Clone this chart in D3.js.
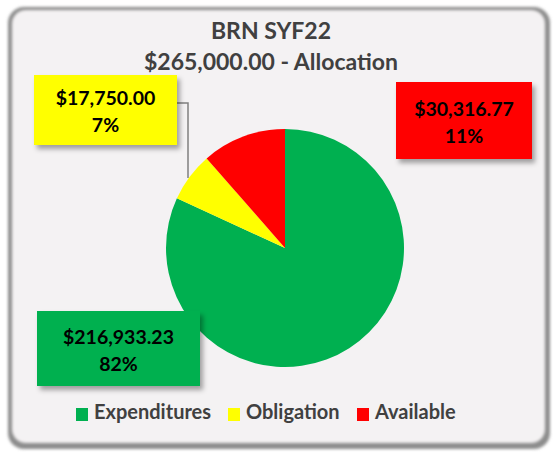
<!DOCTYPE html>
<html>
<head>
<meta charset="utf-8">
<script src="https://cdn.jsdelivr.net/npm/d3@7"></script>
<style>
  body { margin: 0; background: #fff; }
  text { font-family: Lato, "Open Sans", sans-serif; font-weight: bold; }
</style>
</head>
<body>
<main></main>
<script>
const categories = ["Expenditures", "Obligation", "Available"];
const values = [216933.23, 17750.00, 30316.77];
const percentLabels = ["82%", "7%", "11%"];
const colors = ["#00b050", "#ffff00", "#ff0000"];
const titleLines = ["BRN SYF22", "$265,000.00 - Allocation"];

const drawChart = () => {
    const width = 554, height = 453;
    const cx = 285, cy = 248, radius = 119;

    const svg = d3.select("main").append("svg")
        .attr("width", width)
        .attr("height", height);

    const defs = svg.append("defs");
    const shadow = defs.append("filter").attr("id", "shadow")
        .attr("x", "-20%").attr("y", "-20%").attr("width", "150%").attr("height", "150%");
    shadow.append("feDropShadow")
        .attr("dx", 3).attr("dy", 4).attr("stdDeviation", 2.5)
        .attr("flood-color", "#000").attr("flood-opacity", 0.35);

    const soft = defs.append("filter").attr("id", "soft")
        .attr("x", "-5%").attr("y", "-5%").attr("width", "110%").attr("height", "110%");
    soft.append("feGaussianBlur").attr("stdDeviation", 1.6);

    // chart frame (bevelled border)
    svg.append("rect")
        .attr("x", 8).attr("y", 7)
        .attr("width", 542).attr("height", 442)
        .attr("rx", 16)
        .attr("fill", "#8c8c8c")
        .attr("filter", "url(#soft)");
    svg.append("rect")
        .attr("x", 12).attr("y", 10)
        .attr("width", 533).attr("height", 433)
        .attr("rx", 14)
        .attr("fill", "#f4f2f3")
        .attr("filter", "url(#soft)");

    // title
    svg.selectAll(".title")
        .data(titleLines)
        .enter()
        .append("text")
        .attr("class", "title")
        .attr("x", 271)
        .attr("y", (d, i) => 39 + i * 31)
        .attr("text-anchor", "middle")
        .attr("font-size", 23)
        .attr("fill", "#404040")
        .text(d => d);

    const data = categories.map((c, i) => ({name: c, value: values[i], pct: percentLabels[i], color: colors[i]}));

    const pie = d3.pie().sort(null).value(d => d.value);
    const arc = d3.arc().innerRadius(0).outerRadius(radius);
    const arcs = pie(data);

    const g = svg.append("g").attr("transform", "translate(" + cx + "," + cy + ")");
    g.selectAll(".slice")
        .data(arcs)
        .enter()
        .append("path")
        .attr("class", "slice")
        .attr("d", arc)
        .attr("fill", d => d.data.color);

    // leader line for the obligation label
    svg.append("path")
        .attr("d", d3.line()([[177, 103], [188, 103], [188, 178]]))
        .attr("fill", "none")
        .attr("stroke", "#808080")
        .attr("stroke-width", 1.5);

    // data labels
    const boxes = [
        {x: 37, y: 311, w: 163, h: 75},
        {x: 34, y: 75, w: 143, h: 70},
        {x: 396, y: 82, w: 136, h: 77}
    ];
    const fmt = d3.format("$,.2f");
    const lbl = svg.selectAll(".lbl")
        .data(arcs)
        .enter()
        .append("g")
        .attr("class", "lbl")
        .attr("transform", (d, i) => "translate(" + boxes[i].x + "," + boxes[i].y + ")");
    lbl.append("rect")
        .attr("width", (d, i) => boxes[i].w)
        .attr("height", (d, i) => boxes[i].h)
        .attr("fill", d => d.data.color)
        .attr("filter", "url(#shadow)");
    lbl.append("text")
        .attr("x", (d, i) => boxes[i].w / 2)
        .attr("y", (d, i) => boxes[i].h / 2 - 5)
        .attr("text-anchor", "middle")
        .attr("font-size", 19.5)
        .attr("fill", "#000")
        .text(d => fmt(d.data.value));
    lbl.append("text")
        .attr("x", (d, i) => boxes[i].w / 2)
        .attr("y", (d, i) => boxes[i].h / 2 + 22)
        .attr("text-anchor", "middle")
        .attr("font-size", 19.5)
        .attr("fill", "#000")
        .text(d => d.data.pct);

    // legend
    const legend = svg.append("g").attr("class", "legend");
    const legendX = [76, 228, 357];
    data.forEach((d, i) => {
        legend.append("rect")
            .attr("x", legendX[i]).attr("y", 408)
            .attr("width", 12).attr("height", 13)
            .attr("fill", d.color);
        legend.append("text")
            .attr("x", legendX[i] + 18).attr("y", 419)
            .attr("font-size", 20)
            .attr("fill", "#404040")
            .text(d.name);
    });
}
drawChart();
</script>
</body>
</html>
